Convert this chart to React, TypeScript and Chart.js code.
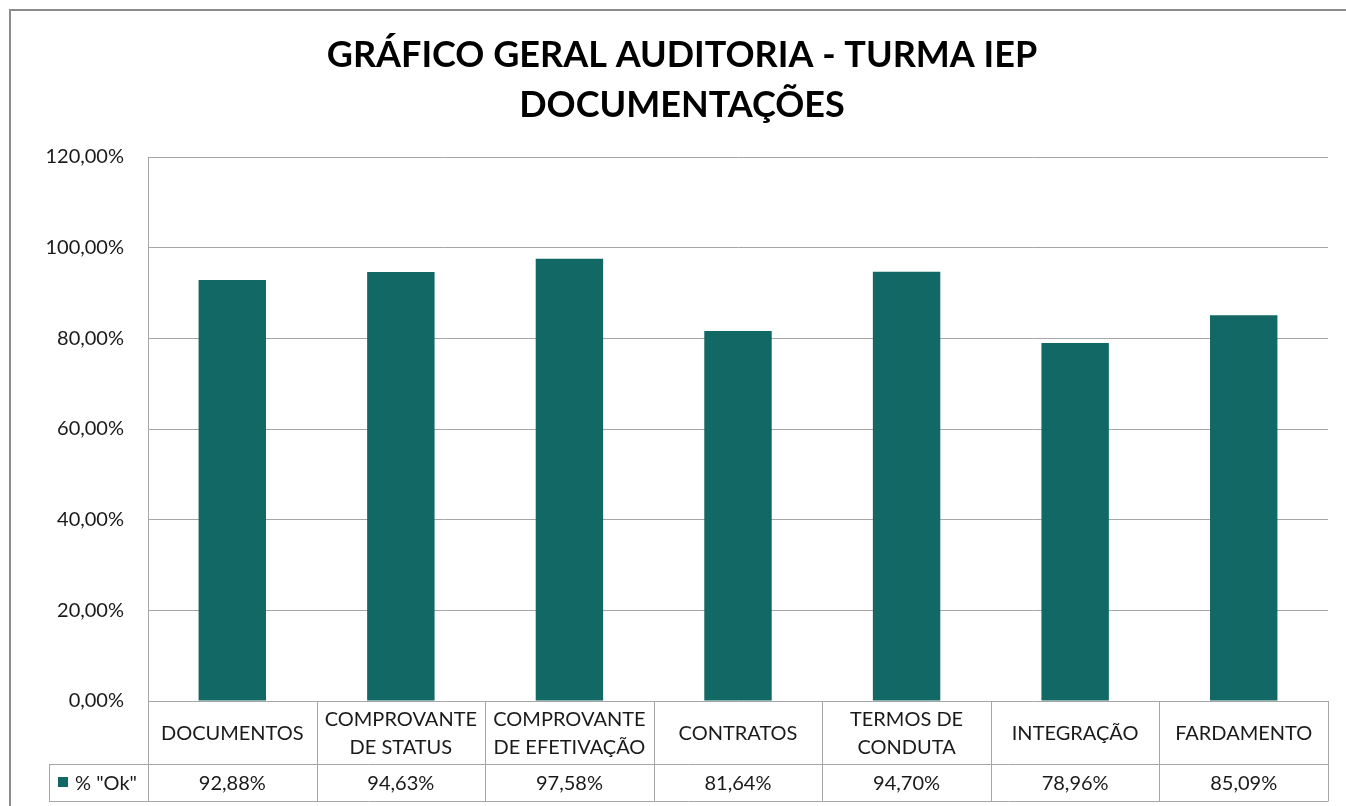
import React, { useEffect, useRef } from "react";
import { Chart, registerables } from "chart.js";

Chart.register(...registerables);

const titleLines = ["GRÁFICO GERAL AUDITORIA - TURMA IEP", "DOCUMENTAÇÕES"];
const categories: string[][] = [
  ["DOCUMENTOS"],
  ["COMPROVANTE", "DE STATUS"],
  ["COMPROVANTE", "DE EFETIVAÇÃO"],
  ["CONTRATOS"],
  ["TERMOS DE", "CONDUTA"],
  ["INTEGRAÇÃO"],
  ["FARDAMENTO"],
];
const seriesName = '% "Ok"';
const okValues = [92.88, 94.63, 97.58, 81.64, 94.7, 78.96, 85.09];
const yTicks = [0, 20, 40, 60, 80, 100, 120];

const FONT = "Lato";
const TEXT = "#1a1a1a";
const GRID = "#a6a6a6";
const BAR = "#116865";

const fmt = (v: number) => v.toFixed(2).replace(".", ",") + "%";

const tablePlugin = {
  id: "tablePlugin",
  afterDraw(chart: any) {
    const ctx = chart.ctx as CanvasRenderingContext2D;
    const x = chart.scales.x;
    const area = chart.chartArea;
    const n = categories.length;
    const colW = (area.right - area.left) / n;
    const row1Top = area.bottom;
    const row2Top = area.bottom + 63;
    const row2Bottom = area.bottom + 100;
    const legendLeft = 49;

    ctx.save();
    // frame (top and left edges only; the rest lies outside the view)
    ctx.strokeStyle = "#8c8c8c";
    ctx.lineWidth = 2;
    ctx.beginPath();
    ctx.moveTo(10, chart.height + 5);
    ctx.lineTo(10, 10);
    ctx.lineTo(chart.width + 5, 10);
    ctx.stroke();

    // table lines
    ctx.strokeStyle = GRID;
    ctx.lineWidth = 1;
    ctx.beginPath();
    const h = (y: number, x1: number, x2: number) => {
      ctx.moveTo(x1, Math.round(y) + 0.5);
      ctx.lineTo(x2, Math.round(y) + 0.5);
    };
    const v = (xx: number, y1: number, y2: number) => {
      ctx.moveTo(Math.round(xx) + 0.5, y1);
      ctx.lineTo(Math.round(xx) + 0.5, y2);
    };
    h(row2Top, legendLeft, area.right);
    h(row2Bottom, legendLeft, area.right);
    v(legendLeft, row2Top, row2Bottom + 0.5);
    for (let i = 0; i <= n; i++) {
      v(area.left + i * colW, row1Top, row2Bottom + 0.5);
    }
    ctx.stroke();

    // category labels
    ctx.fillStyle = TEXT;
    ctx.font = `20px ${FONT}`;
    ctx.textAlign = "center";
    ctx.textBaseline = "middle";
    const lineH = 28;
    categories.forEach((lines, i) => {
      const cx = x.getPixelForValue(i);
      const cy = (row1Top + row2Top) / 2 + 1;
      const start = cy - ((lines.length - 1) * lineH) / 2;
      lines.forEach((ln, j) => ctx.fillText(ln, cx, start + j * lineH));
    });
    // values
    okValues.forEach((val, i) => {
      const cx = x.getPixelForValue(i);
      ctx.fillText(fmt(val), cx, (row2Top + row2Bottom) / 2 + 1);
    });
    // legend
    ctx.fillStyle = BAR;
    ctx.fillRect(58, 777, 10, 10);
    ctx.fillStyle = TEXT;
    ctx.textAlign = "left";
    ctx.fillText(seriesName, 75, (row2Top + row2Bottom) / 2 + 1);

    // title
    ctx.fillStyle = "#000";
    ctx.font = `bold 36px ${FONT}`;
    ctx.textAlign = "center";
    ctx.textBaseline = "alphabetic";
    ctx.fillText(titleLines[0], 682, 67);
    ctx.fillText(titleLines[1], 682, 117);
    ctx.restore();
  },
};

export default function App() {
  const ref = useRef<HTMLCanvasElement>(null);
  useEffect(() => {
    if (!ref.current) return;
    const chart = new Chart(ref.current, {
      type: "bar",
      data: {
        labels: categories,
        datasets: [
          {
            label: seriesName,
            data: okValues,
            backgroundColor: BAR,
            categoryPercentage: 1,
            barPercentage: 0.4,
          },
        ],
      },
      options: {
        animation: false,
        responsive: false,
        devicePixelRatio: 1,
        layout: { padding: { top: 157, left: 0, right: 18, bottom: 105 } },
        plugins: { legend: { display: false }, tooltip: { enabled: false } },
        scales: {
          x: { display: false },
          y: {
            min: 0,
            max: 120,
            afterBuildTicks: (scale: any) => {
              scale.ticks = yTicks.map((t) => ({ value: t }));
            },
            afterFit: (scale: any) => {
              scale.width = 148;
            },
            grid: { color: GRID, lineWidth: 1, drawTicks: false },
            border: { display: true, color: GRID, width: 1 },
            ticks: {
              padding: 24,
              color: TEXT,
              font: { family: FONT, size: 20 },
              callback: (val: any) => fmt(Number(val)),
            },
          },
        },
      },
      plugins: [tablePlugin],
    });
    return () => chart.destroy();
  }, []);
  return (
    <div style={{ position: "absolute", left: 0, top: 0, width: 1346, height: 806, background: "#fff" }}>
      <canvas ref={ref} width={1346} height={806} style={{ display: "block" }} />
    </div>
  );
}
